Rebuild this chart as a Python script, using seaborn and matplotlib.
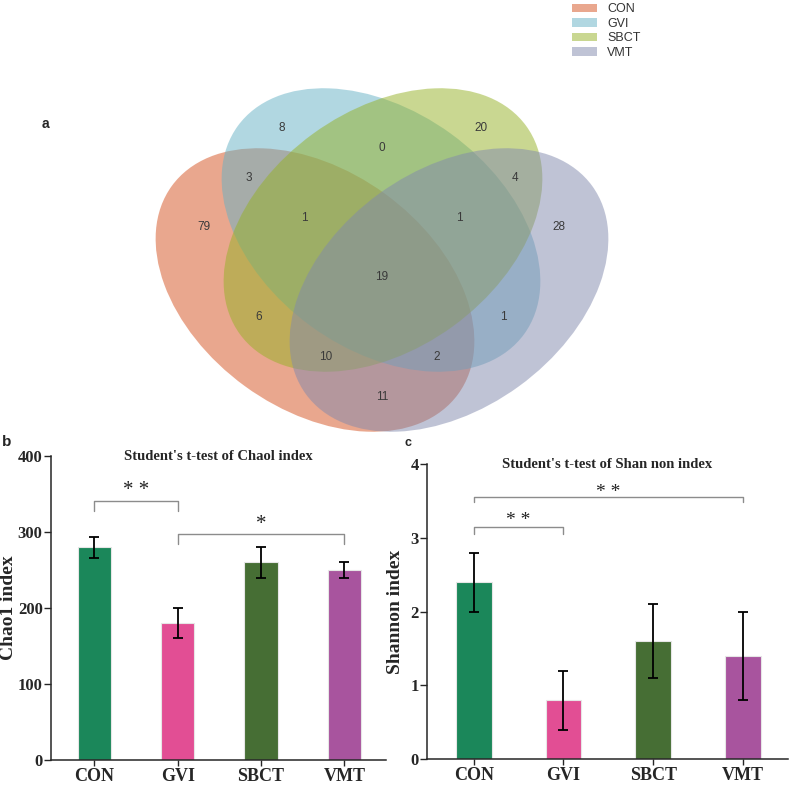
import numpy as np
import pandas as pd
import matplotlib
matplotlib.use('Agg')
import matplotlib.pyplot as plt
from matplotlib.patches import Ellipse, Patch
import seaborn as sns

# Datos del grafico
grupos = ['CON', 'GVI', 'SBCT', 'VMT']
colores_venn = ['#D5511F', '#65B1C5', '#95B125', '#8189AD']

# conteos del diagrama de Venn (por region)
venn_conteos = [8, 0, 20, 3, 4, 79, 1, 1, 28, 19, 6, 1, 10, 2, 11]

chao1 = [280, 180, 260, 250]
chao1_sd = [14, 20, 20, 10]
shannon = [2.4, 0.8, 1.6, 1.4]
shannon_sd = [0.4, 0.4, 0.5, 0.6]
colores_barras = ['#1B875A', '#E24E94', '#466E34', '#A8549E']

# comparaciones (grupo i, grupo j, etiqueta)
sig_chao1 = [(0, 1, '* *'), (1, 3, '*')]
sig_shannon = [(0, 1, '* *'), (0, 3, '* *')]

# posiciones (en pixeles) de la figura
venn_centros = [(315, 290), (381, 230), (383, 230), (449, 290)]
venn_angulos = [36, 36, -36, -36]
venn_pos_texto = [(282, 128), (382, 148), (481, 128), (249, 178), (515, 178),
                  (204, 227), (304, 218), (459, 218), (559, 227), (382, 277),
                  (259, 317), (503, 317), (326, 357), (437, 357), (382, 397)]

sns.set_style('ticks')
plt.rcParams['font.family'] = ['Liberation Serif', 'DejaVu Serif']

fig = plt.figure(figsize=(7.9, 7.87), dpi=100)

# ---- Venn ----
ax_a = fig.add_axes([0, 0, 1, 1])
ax_a.set_xlim(0, 790)
ax_a.set_ylim(787, 0)
ax_a.axis('off')
for c, ang, col in zip(venn_centros, venn_angulos, colores_venn):
    e = Ellipse(c, width=354, height=238, angle=ang, facecolor=col, alpha=0.5,
                edgecolor='none')
    ax_a.add_patch(e)
for (x, y), n in zip(venn_pos_texto, venn_conteos):
    ax_a.text(x, y, str(n), ha='center', va='center', fontsize=8.5,
              color='#3a3a3a', family='Liberation Sans')

handles = [Patch(facecolor=c, alpha=0.5, edgecolor='none') for c in colores_venn]
leg = ax_a.legend(handles, grupos, loc='upper left', bbox_to_anchor=(0.71, 1.01),
                  frameon=False, handlelength=2.0, handleheight=0.7,
                  labelspacing=0.2, handletextpad=0.8,
                  prop={'family': 'Liberation Sans', 'size': 9})
for t in leg.get_texts():
    t.set_color('#333333')

fig.text(45 / 790, 1 - 124 / 787, 'a', fontsize=10, fontweight='bold',
         family='Liberation Sans', ha='center', va='center')
fig.text(7 / 790, 1 - 442 / 787, 'b', fontsize=11, fontweight='bold',
         family='Liberation Sans', ha='center', va='center')
fig.text(408 / 790, 1 - 443 / 787, 'c', fontsize=9, fontweight='bold',
         family='Liberation Sans', ha='center', va='center')


def panel_barras(ax, valores, sd, sig, ymax, paso, titulo, ylabel, alturas,
                 pos_label, tam_sig):
    df = pd.DataFrame({'grupo': grupos, 'valor': valores})
    sns.barplot(data=df, x='grupo', y='valor', hue='grupo', palette=colores_barras,
                width=0.4, edgecolor='#e6e6e6', linewidth=0.8, legend=False,
                saturation=1, ax=ax)
    ax.errorbar(range(len(grupos)), valores, yerr=sd, fmt='none', ecolor='black',
                elinewidth=1.3, capsize=3.5, capthick=1.3, zorder=5)
    ax.set_xlim(-0.52, 3.5)
    ax.set_ylim(0, ymax)
    ax.set_yticks(np.arange(0, ymax + paso / 2, paso))
    sns.despine(ax=ax)
    ax.set_xlabel('')
    ax.set_ylabel(ylabel, fontsize=14, fontweight='bold')
    ax.yaxis.set_label_coords(pos_label, 0.5)
    ax.tick_params(axis='y', labelsize=12, length=5, width=1, pad=1)
    ax.tick_params(axis='x', labelsize=13, length=4, width=1, pad=2)
    for lbl in ax.get_xticklabels() + ax.get_yticklabels():
        lbl.set_fontweight('bold')
    for s in ['left', 'bottom']:
        ax.spines[s].set_linewidth(1.1)
    ax.text(0.5, 1.0, titulo, transform=ax.transAxes, ha='center', va='center',
            fontsize=10.5, fontweight='bold')
    for (i, j, txt), (h, dh) in zip(sig, alturas):
        ax.plot([i, i, j, j], [h - dh, h, h, h - dh], color='#8c8c8c', lw=1)
        ax.text((i + j) / 2, h + dh * 1.0, txt, ha='center', va='center',
                fontsize=tam_sig, color='#222222')


ax_b = fig.add_axes([51 / 790, 1 - 760 / 787, 335 / 790, 304 / 787])
panel_barras(ax_b, chao1, chao1_sd, sig_chao1, 400, 100,
             "Student's t-test of Chaol index", 'Chao1 index',
             [(341, 14), (297, 13)], -0.1, 15)

ax_c = fig.add_axes([427 / 790, 1 - 759 / 787, 361 / 790, 295 / 787])
panel_barras(ax_c, shannon, shannon_sd, sig_shannon, 4, 1,
             "Student's t-test of Shan non index", 'Shannon index',
             [(3.14, 0.09), (3.55, 0.07)], -0.065, 14)

fig.savefig('out.png', dpi=100)
